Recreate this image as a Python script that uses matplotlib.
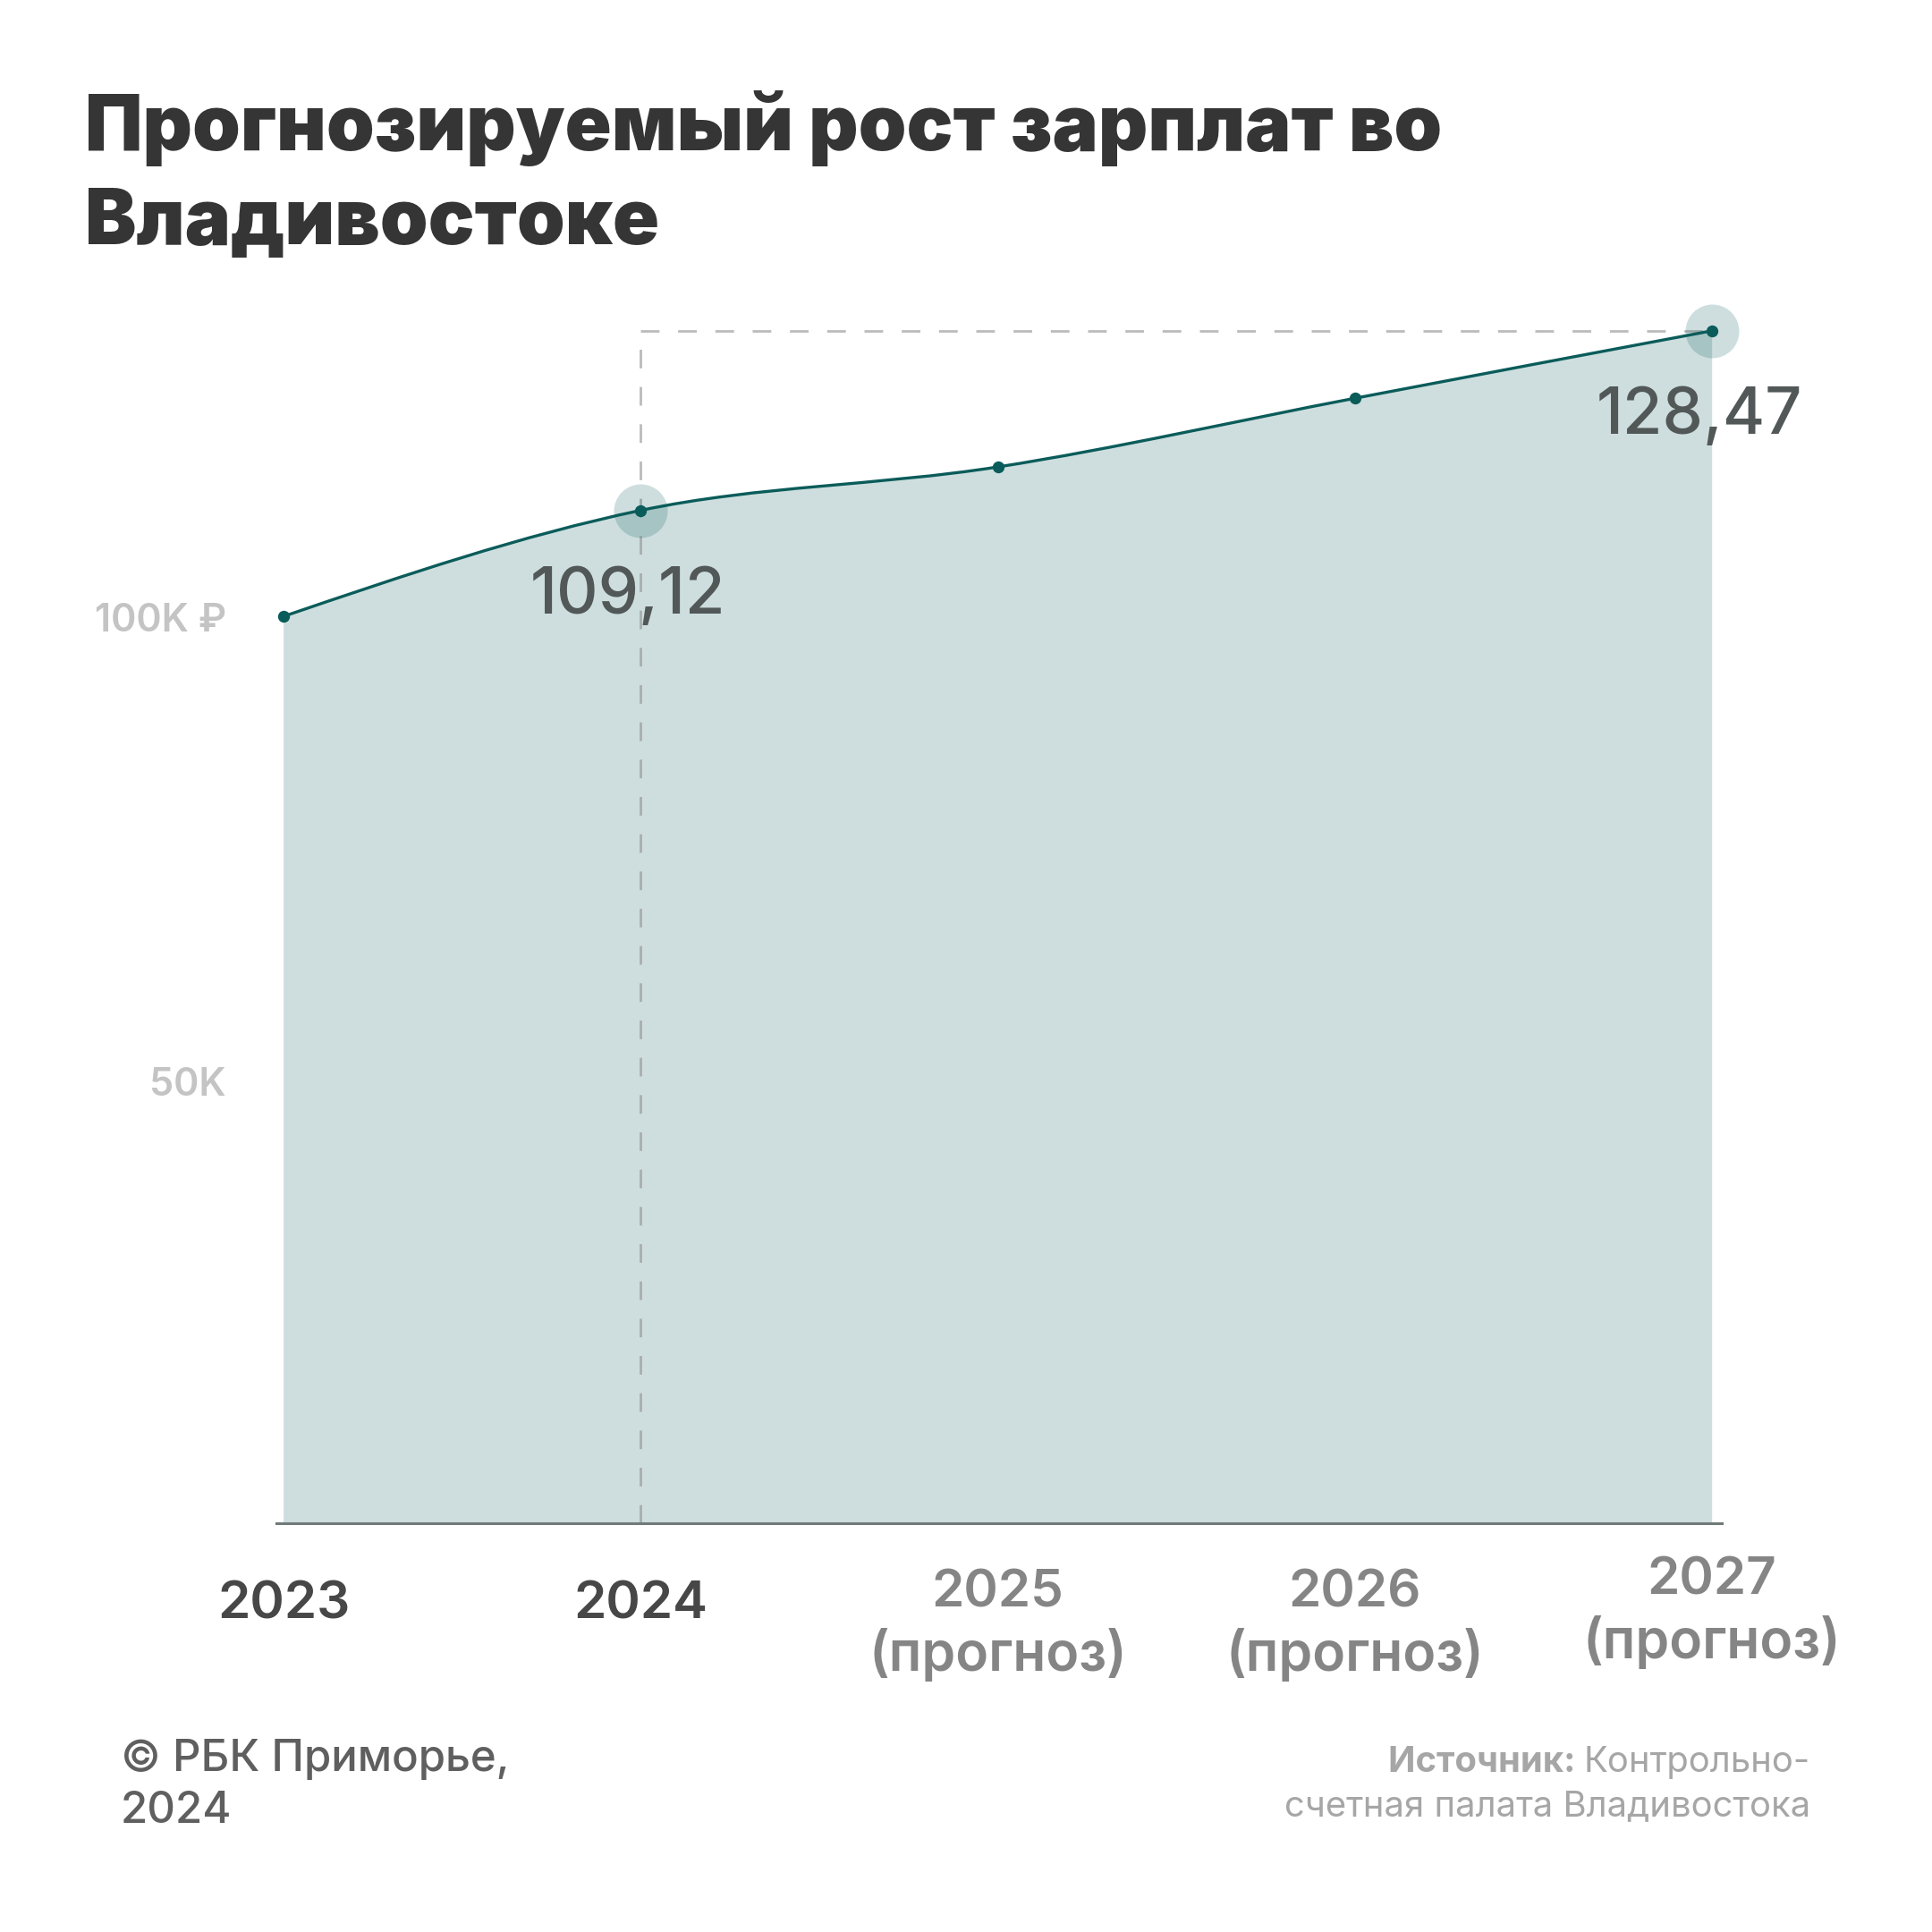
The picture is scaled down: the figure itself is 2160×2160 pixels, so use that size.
import matplotlib.pyplot as plt
import matplotlib.transforms as mtransforms
from matplotlib.path import Path
from matplotlib.patches import PathPatch
import numpy as np

plt.rcParams["font.family"] = ["Inter", "DejaVu Sans"]

# Data (thousand rubles)
years = [2023, 2024, 2025, 2026, 2027]
salary = [97.7, 109.12, 113.8, 121.2, 128.47]
year_labels = ["2023", "2024", "2025", "2026", "2027"]
forecast = [False, False, True, True, True]
highlight = [2024, 2027]
highlight_labels = ["109,12", "128,47"]
ytick_vals = [100, 50]
ytick_labels = ["100K ₽", "50K"]

LINE = "#0a5c5a"
DPI = 200

fig = plt.figure(figsize=(10.8, 10.8), dpi=DPI)
ax = fig.add_axes([0.1429, 0.2116, 0.891 - 0.1429, 0.8472 - 0.2116])
ax.set_xlim(2022.979, 2027.026)
ax.set_ylim(0, 132.3)
for s in ["top", "right", "left"]:
    ax.spines[s].set_visible(False)
ax.spines["bottom"].set_color("#6f7a79")
ax.spines["bottom"].set_linewidth(1.1)
ax.set_xticks([])
ax.set_yticks([])


# monotone cubic (d3 curveMonotoneX style) as bezier path
def monotone_path(xs, ys):
    xs = np.asarray(xs, float)
    ys = np.asarray(ys, float)
    n = len(xs)
    h = np.diff(xs)
    s = np.diff(ys) / h
    m = np.zeros(n)
    for i in range(1, n - 1):
        p = (s[i - 1] * h[i] + s[i] * h[i - 1]) / (h[i - 1] + h[i])
        m[i] = (np.sign(s[i - 1]) + np.sign(s[i])) * min(
            abs(s[i - 1]), abs(s[i]), 0.5 * abs(p)
        )
    m[0] = (3 * s[0] - m[1]) / 2
    m[-1] = (3 * s[-1] - m[-2]) / 2
    verts = [(xs[0], ys[0])]
    codes = [Path.MOVETO]
    for i in range(n - 1):
        dx = h[i] / 3
        verts += [
            (xs[i] + dx, ys[i] + m[i] * dx),
            (xs[i + 1] - dx, ys[i + 1] - m[i + 1] * dx),
            (xs[i + 1], ys[i + 1]),
        ]
        codes += [Path.CURVE4] * 3
    return verts, codes


verts, codes = monotone_path(years, salary)
line_path = Path(verts, codes)
fill_verts = verts + [(years[-1], 0), (years[0], 0), verts[0]]
fill_codes = codes + [Path.LINETO, Path.LINETO, Path.CLOSEPOLY]
ax.add_patch(
    PathPatch(Path(fill_verts, fill_codes), facecolor=LINE, alpha=0.2, lw=0, zorder=1)
)
ax.add_patch(
    PathPatch(line_path, facecolor="none", edgecolor=LINE, lw=1.2, zorder=4)
)

# dashed guides
top_val = salary[-1]
ax.plot(
    [highlight[0], highlight[0]], [0, top_val],
    color="#8f8f8f", alpha=0.6, lw=1.0, ls=(0, (7.5, 7.5)), zorder=2,
)
ax.plot(
    [highlight[0], years[-1]], [top_val, top_val],
    color="#8f8f8f", alpha=0.6, lw=1.0, ls=(0, (7.5, 7.5)), zorder=2,
)

# halos + points
for yr, lab in zip(highlight, highlight_labels):
    v = salary[years.index(yr)]
    ax.plot(yr, v, "o", ms=21.6, color=LINE, alpha=0.2, mec="none", zorder=3,
            clip_on=False)
    ax.annotate(
        lab, (yr, v), xytext=(-14, -115), textcoords="offset pixels",
        ha="center", va="baseline", fontsize=26, color="#525858",
        fontweight="medium", zorder=6,
    )
ax.plot(years, salary, "o", ms=4.8, color=LINE, mec="none", zorder=5,
        clip_on=False)

# y labels
for v, lab in zip(ytick_vals, ytick_labels):
    tr = mtransforms.offset_copy(ax.transData, fig=fig, x=-64, y=-29, units="dots")
    ax.text(
        years[0], v, lab, transform=tr, ha="right", va="center",
        fontsize=15.5, color="#c4c4c4", fontweight="semibold",
    )

# x labels
for i, (yr, lab, fc) in enumerate(zip(years, year_labels, forecast)):
    if not fc:
        tr = mtransforms.offset_copy(ax.transData, fig=fig, y=-107, units="dots")
        ax.text(yr, 0, lab, transform=tr, ha="center", va="baseline",
                fontsize=21, color="#474747", fontweight="semibold")
    else:
        up = 14 if yr == years[-1] else 0
        tr1 = mtransforms.offset_copy(ax.transData, fig=fig, y=-94 + up, units="dots")
        tr2 = mtransforms.offset_copy(ax.transData, fig=fig, y=-165 + up, units="dots")
        ax.text(yr, 0, lab, transform=tr1, ha="center", va="baseline",
                fontsize=21, color="#858585", fontweight="semibold")
        ax.text(yr, 0, "(прогноз)", transform=tr2, ha="center", va="baseline",
                fontsize=21.8, color="#858585", fontweight="semibold")

# title
W = 2160
fig.text(95 / W, 1 - 168 / W, "Прогнозируемый рост зарплат во",
         fontsize=31, fontweight="black", color="#353535", va="baseline")
fig.text(95 / W, 1 - 273 / W, "Владивостоке",
         fontsize=31, fontweight="black", color="#353535", va="baseline")

# footer
fig.text(135 / W, 1 - 1980 / W, "© РБК Приморье,", fontsize=17.7,
         color="#5f5f5f", fontweight="medium", va="baseline")
fig.text(135 / W, 1 - 2038 / W, "2024", fontsize=17.7,
         color="#5f5f5f", fontweight="medium", va="baseline")
src = fig.text(2024 / W, 1 - 1981 / W, "Контрольно-", fontsize=14.4,
               color="#a6a6a6", ha="right", va="baseline")
fig.text(2024 / W, 1 - 2030 / W, "счетная палата Владивостока", fontsize=14.4,
         color="#a6a6a6", ha="right", va="baseline")
ax.annotate("Источник: ", xy=(0, 0), xycoords=src, ha="right", va="bottom",
            fontsize=14.4, color="#a6a6a6", fontweight="bold",
            annotation_clip=False)

fig.savefig("out.png", dpi=DPI, facecolor="white")
